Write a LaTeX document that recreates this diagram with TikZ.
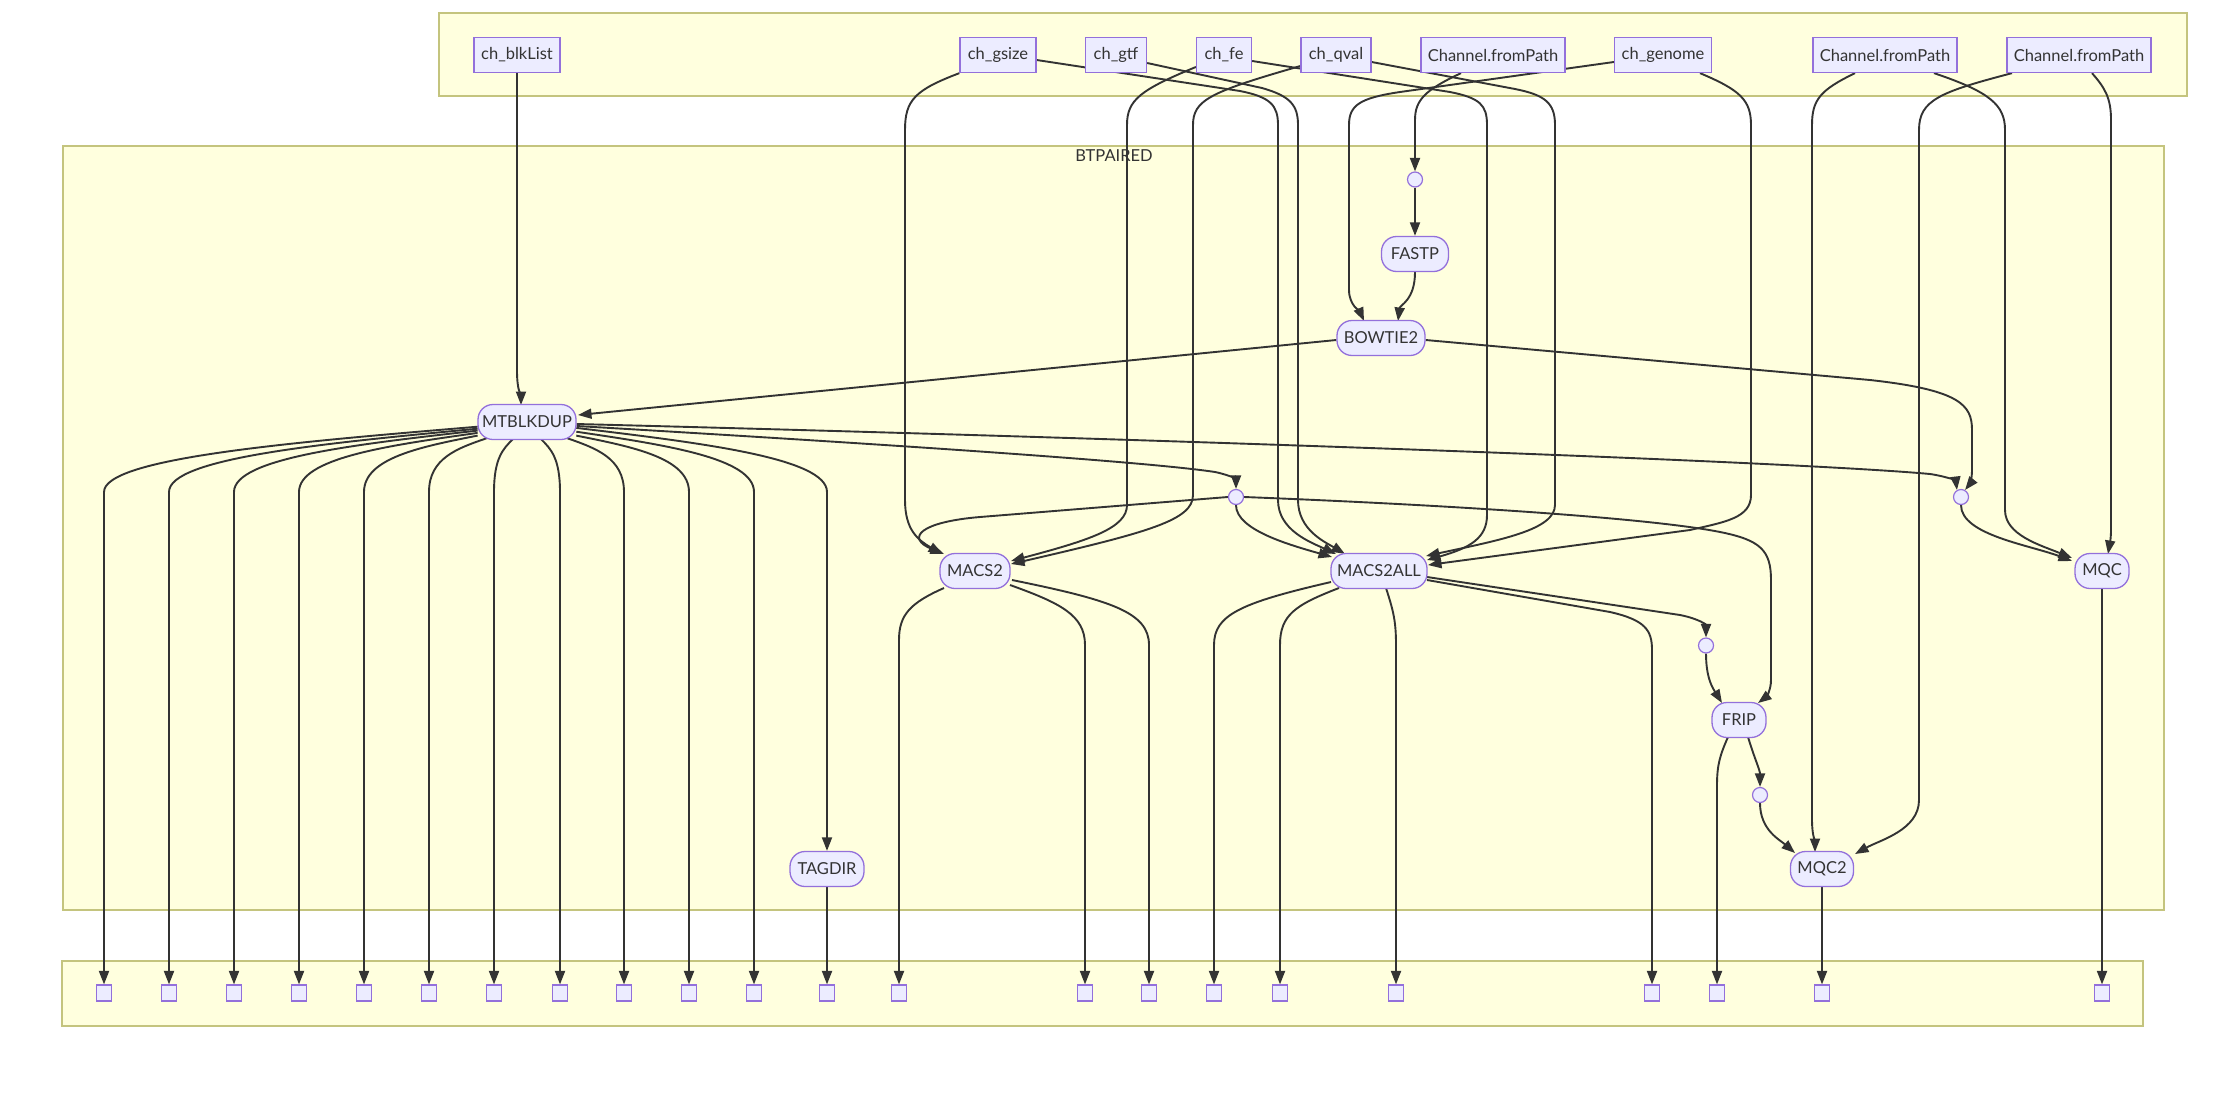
\documentclass[tikz,border=0pt]{standalone}
\usepackage{fontspec}
\setmainfont{Lato}
\usetikzlibrary{arrows.meta,calc}
\definecolor{nfill}{HTML}{ECECFF}
\definecolor{nline}{HTML}{9370DB}
\definecolor{cfill}{HTML}{FFFFDE}
\definecolor{cline}{HTML}{C4C47E}
\definecolor{ecol}{HTML}{333333}
\pgfdeclarelayer{bg}\pgfdeclarelayer{edges}\pgfsetlayers{bg,edges,main}
\tikzset{
 box/.style={rectangle, draw=nline, fill=nfill, line width=1.3pt, minimum height=35pt, inner sep=0pt, text=ecol, font=\fontsize{16.5}{19}\selectfont},
 proc/.style={box, rounded corners=15pt},
 dot/.style={circle, draw=nline, fill=nfill, line width=1.2pt, minimum size=15pt, inner sep=0pt},
 sqr/.style={rectangle, draw=nline, fill=nfill, line width=1.2pt, minimum width=15pt, minimum height=16pt, inner sep=0pt},
 edge/.style={draw=ecol, line width=1.9pt, -{Triangle[length=13.5pt,width=10pt]}},
 clus/.style={draw=cline, fill=cfill, line width=1.5pt},
}
\begin{document}
\begin{tikzpicture}[x=1pt,y=-1pt]
\useasboundingbox (0,0) rectangle (2227,1100);
\begin{pgfonlayer}{bg}
\fill[white] (0,0) rectangle (2227,1100);
\draw[clus] (439,13) rectangle (2187,96);
\draw[clus] (63,146) rectangle (2164,910);
\draw[clus] (62,961) rectangle (2143,1026);
\end{pgfonlayer}
\node[text=ecol, font=\fontsize{16.5}{19}\selectfont] (lbl) at (1114,156) {BTPAIRED};
% top row
\node[box, minimum width=86pt] (blk) at (517,55) {ch\_blkList};
\node[box, minimum width=76pt] (gsize) at (998,55) {ch\_gsize};
\node[box, minimum width=61pt] (gtf) at (1116,55) {ch\_gtf};
\node[box, minimum width=55pt] (fe) at (1224,55) {ch\_fe};
\node[box, minimum width=70pt] (qval) at (1336,55) {ch\_qval};
\node[box, minimum width=144pt] (cfp1) at (1493,55) {Channel.fromPath};
\node[box, minimum width=97pt] (genome) at (1663,55) {ch\_genome};
\node[box, minimum width=144pt] (cfp2) at (1885,55) {Channel.fromPath};
\node[box, minimum width=144pt] (cfp3) at (2079,55) {Channel.fromPath};
% processes
\node[proc, minimum width=67pt] (fastp) at (1415,254) {FASTP};
\node[proc, minimum width=88pt] (bowtie) at (1381,338) {BOWTIE2};
\node[proc, minimum width=98pt] (mtb) at (527,422) {MTBLKDUP};
\node[proc, minimum width=70pt] (macs) at (975,571) {MACS2};
\node[proc, minimum width=96pt] (macsall) at (1379,571) {MACS2ALL};
\node[proc, minimum width=54pt] (mqc) at (2102,571) {MQC};
\node[proc, minimum width=54pt] (frip) at (1739,720) {FRIP};
\node[proc, minimum width=74pt] (tagdir) at (827,869) {TAGDIR};
\node[proc, minimum width=63pt] (mqc2) at (1822,869) {MQC2};
% joins
\node[dot] (c1) at (1415,179.5) {};
\node[dot] (c2) at (1236,497) {};
\node[dot] (c3) at (1961,497) {};
\node[dot] (c4) at (1706,645.5) {};
\node[dot] (c5) at (1760,795) {};
% outputs
\foreach \x [count=\i] in {104,169,234,299,364,429,494,560,624,689,754,827,899,1085,1149,1214,1280,1396,1652,1717,1822,2102}
  \node[sqr] (s\i) at (\x,993) {};

\begin{pgfonlayer}{edges}
\draw[edge] (blk.south) -- (517,370) .. controls (517,392) and (521,395) .. ($(mtb)+(-6,-17)$);
\draw[edge] ($(cfp1.south)+(-32,0)$) .. controls (1425,90) and (1415,100) .. (1415,120) -- (c1.north);
\draw[edge] (c1.south) -- (fastp.north);
\draw[edge] (fastp.south) .. controls (1415,300) and (1400,305) .. ($(bowtie)+(17,-17)$);
\draw[edge] ($(genome.west)+(0,7)$) -- (1400,92) .. controls (1360,98) and (1349,105) .. (1349,125) -- (1349,290) .. controls (1349,305) and (1360,312) .. ($(bowtie)+(-17,-17)$);
\draw[edge] ($(bowtie.west)+(0,2)$) -- ($(mtb)+(51,-7)$);
\draw[edge] ($(bowtie.east)+(0,2)$) -- (1870,380) .. controls (1960,390) and (1972,405) .. (1972,430) -- (1972,470) .. controls (1972,480) and (1969,485) .. (c3.60);
\draw[edge] ($(mtb.east)+(0,2)$) .. controls (1200,440) and (1800,462) .. (1930,474) .. controls (1950,477) and (1956,482) .. (c3.120);
\draw[edge] ($(mtb.east)+(0,4)$) .. controls (900,445) and (1150,462) .. (1215,472) .. controls (1230,475) and (1236,480) .. (c2.north);
% MTBLKDUP fan-out
\foreach \x/\dx/\dy [count=\i] in {104/-49.4/4.7, 169/-49.4/6.7, 234/-49.4/8.6, 299/-49.4/10.9, 364/-49.4/13.6, 429/-40.2/16.2, 494/-14.4/17.4, 560/14.3/17.4, 624/40.2/16.2, 689/49.3/13.6, 754/49.3/9.7}{
  \path ($(mtb)+(\dx,\dy)$) coordinate (st);
  \draw[edge] (st) .. controls ($(st)!0.5!(\x,458)$) and (\x,458) .. (\x,492) -- (s\i.north);
}
\path ($(mtb)+(49.3,5.9)$) coordinate (st);
\draw[edge] (st) .. controls ($(st)!0.5!(827,458)$) and (827,458) .. (827,492) -- (tagdir.north);
\draw[edge] (tagdir.south) -- (s12.north);
% into MACS2
\draw[edge] (c2.west) -- (980,517) .. controls (920,522) and (905,538) .. ($(macs)+(-31,-17)$);
\draw[edge] (gsize.south west) .. controls (915,90) and (905,100) .. (905,130) -- (905,500) .. controls (905,530) and (918,540) .. ($(macs)+(-33,-17)$);
\draw[edge] ($(fe.west)+(0,12)$) .. controls (1140,90) and (1127,100) .. (1127,125) -- (1127,505) .. controls (1127,528) and (1090,540) .. ($(macs)+(36,-10)$);
\draw[edge] ($(qval.west)+(0,11)$) .. controls (1210,92) and (1193,100) .. (1193,125) -- (1193,495) .. controls (1193,520) and (1150,532) .. ($(macs)+(36,-7)$);
% into MACS2ALL
\draw[edge] ($(gsize.east)+(0,5)$) -- (1240,91) .. controls (1270,97) and (1278,105) .. (1278,125) -- (1278,500) .. controls (1278,530) and (1310,542) .. ($(macsall)+(-43,-17)$);
\draw[edge] ($(gtf.east)+(0,8)$) -- (1262,88) .. controls (1290,96) and (1298,105) .. (1298,125) -- (1298,500) .. controls (1298,530) and (1325,542) .. ($(macsall)+(-34,-17)$);
\draw[edge] (c2.south) .. controls (1236,530) and (1290,545) .. ($(macsall)+(-47,-14)$);
\draw[edge] ($(qval.east)+(0,7)$) -- (1515,89) .. controls (1545,95) and (1555,103) .. (1555,125) -- (1555,505) .. controls (1555,530) and (1500,540) .. ($(macsall)+(47,-15)$);
\draw[edge] ($(fe.east)+(0,6)$) -- (1450,92) .. controls (1480,98) and (1487,105) .. (1487,125) -- (1487,515) .. controls (1487,538) and (1470,548) .. ($(macsall)+(48,-11)$);
\draw[edge] ($(genome.south)+(37,0)$) .. controls (1740,90) and (1751,100) .. (1751,125) -- (1751,495) .. controls (1751,518) and (1725,522) .. (1690,530) -- ($(macsall)+(49,-6)$);
% to FRIP
\draw[edge] (c2.east) .. controls (1450,505) and (1650,518) .. (1720,532) .. controls (1760,540) and (1771,550) .. (1771,580) -- (1771,680) .. controls (1771,690) and (1766,697) .. ($(frip)+(19,-17)$);
\draw[edge] ($(macsall)+(48,6)$) -- (1680,615) .. controls (1700,619) and (1706,625) .. (c4.north);
\draw[edge] (c4.south) .. controls (1706,680) and (1714,690) .. ($(frip)+(-17,-17)$);
\draw[edge] ($(frip)+(9,17)$) .. controls (1755,760) and (1760,770) .. (c5.north);
\draw[edge] (c5.south) .. controls (1760,830) and (1780,840) .. ($(mqc2)+(-27,-16)$);
% MQC / MQC2 inputs
\draw[edge] ($(cfp2.south)+(-30,0)$) .. controls (1820,90) and (1812,100) .. (1812,125) -- (1812,820) .. controls (1812,835) and (1815,842) .. ($(mqc2)+(-7,-17)$);
\draw[edge] ($(cfp2.south)+(49,0)$) .. controls (1990,92) and (2005,105) .. (2005,130) -- (2005,510) .. controls (2005,535) and (2040,545) .. ($(mqc)+(-30,-13)$);
\draw[edge] ($(cfp3.south)+(-67,0)$) .. controls (1940,92) and (1919,100) .. (1919,130) -- (1919,800) .. controls (1919,830) and (1880,840) .. ($(mqc2)+(33,-15)$);
\draw[edge] ($(cfp3.south)+(13,0)$) .. controls (2105,88) and (2111,98) .. (2111,120) -- (2111,530) .. controls (2111,540) and (2109,548) .. ($(mqc)+(6,-17)$);
\draw[edge] (c3.south) .. controls (1961,535) and (2030,545) .. ($(mqc)+(-30,-10)$);
% outputs of MACS2 / MACS2ALL / FRIP / MQC
\draw[edge] ($(macs)+(-31,17)$) .. controls (910,603) and (899,615) .. (899,640) -- (s13.north);
\draw[edge] ($(macs)+(35,14)$) .. controls (1060,603) and (1085,615) .. (1085,645) -- (s14.north);
\draw[edge] ($(macs)+(37,9)$) .. controls (1110,600) and (1149,612) .. (1149,645) -- (s15.north);
\draw[edge] ($(macsall)+(-48,11)$) .. controls (1240,603) and (1214,615) .. (1214,645) -- (s16.north);
\draw[edge] ($(macsall)+(-40,17)$) .. controls (1295,605) and (1280,615) .. (1280,645) -- (s17.north);
\draw[edge] ($(macsall)+(7,17)$) .. controls (1393,610) and (1396,620) .. (1396,645) -- (s18.north);
\draw[edge] ($(macsall)+(48,9)$) -- (1610,612) .. controls (1645,620) and (1652,630) .. (1652,650) -- (s19.north);
\draw[edge] ($(frip)+(-11,17)$) .. controls (1720,755) and (1717,765) .. (1717,785) -- (s20.north);
\draw[edge] (mqc2.south) -- (s21.north);
\draw[edge] (mqc.south) -- (s22.north);
\end{pgfonlayer}
\end{tikzpicture}
\end{document}
